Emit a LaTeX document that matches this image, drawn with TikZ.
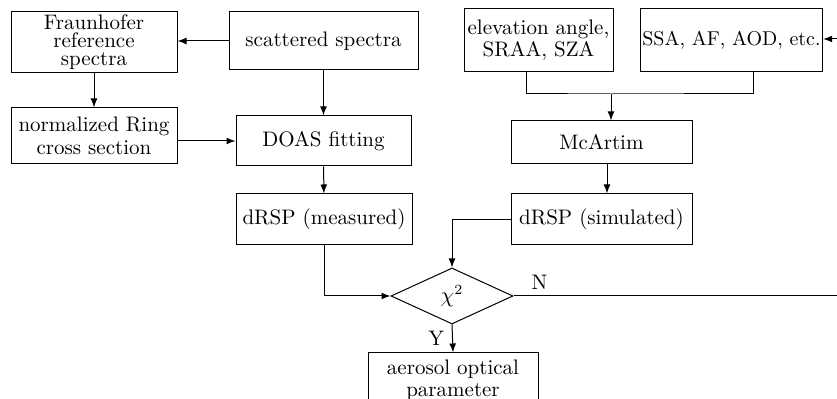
\documentclass[tikz,border=0pt]{standalone}
\usepackage{amsmath}
\usepackage{tikz}
\usetikzlibrary{shapes.geometric, arrows.meta, positioning}

\begin{document}
\begin{tikzpicture}[
    x=0.5pt, y=-0.5pt,
    font=\fontsize{10.5}{11.2}\selectfont,
    line width=0.5pt,
    >={Latex[length=4.5pt,width=3.4pt]},
    block/.style={rectangle, draw, align=center, inner sep=1pt,
                  minimum width=#1},
    decision/.style={diamond, draw, inner sep=0pt,
                     minimum width=61pt, minimum height=28pt},
    arrow/.style={->},
]
    \useasboundingbox (0,0) rectangle (837,399);

    % Measured branch
    \node[block=83pt, minimum height=30.5pt,
          font=\fontsize{10.5}{9}\selectfont] (fraun) at (94,42.5)
          {Fraunhofer\\reference\\spectra};
    \node[block=94.5pt, minimum height=29pt] (scat) at (323.5,41)
          {scattered spectra};
    \node[block=83pt, minimum height=28pt] (ring) at (94,136)
          {normalized Ring\\cross section};
    \node[block=87.5pt, minimum height=25pt] (doas) at (323.5,141)
          {DOAS fitting};
    \node[block=88pt, minimum height=25.5pt] (meas) at (324,219.5)
          {dRSP (measured)};

    \draw[arrow] (scat.west) -- (scat.west -| fraun.east);
    \draw[arrow] (fraun) -- (ring);
    \draw[arrow] (ring.east |- doas.west) -- (doas.west);
    \draw[arrow] (scat) -- (doas);
    \draw[arrow] (doas) -- (meas);

    % Simulated branch
    \node[block=74.5pt, minimum height=31.5pt] (elev) at (538.5,40.5)
          {elevation angle,\\SRAA, SZA};
    \node[block=90.5pt, minimum height=31.5pt,
          font=\fontsize{10}{11}\selectfont] (ssa) at (731.5,40.5)
          {SSA, AF, AOD, etc.};
    \node[block=90.5pt, minimum height=21.5pt] (mcart) at (601.5,142.5)
          {McArtim};
    \node[block=90.5pt, minimum height=25.5pt] (sim) at (601.5,219.5)
          {dRSP (simulated)};
    \coordinate (join) at (611,94);

    \draw ([xshift=-6.25pt]elev.south) |- (join)
          -| ([xshift=10.75pt]ssa.south);
    \draw[arrow] (join) -- (join |- mcart.north);
    \draw[arrow] ([xshift=2.75pt]mcart.south) -- ([xshift=2.75pt]sim.north);

    % Comparison
    \node[decision] (chi) at (452,296) {$\chi^2$};
    \node[block=85pt, minimum height=27pt] (aero) at (453,380)
          {aerosol optical\\parameter};

    \draw[arrow] (meas.south) |- (chi.west);
    \draw[arrow] (sim.west) -| (chi.north);
    \draw[arrow] (chi.south) -- node[left, inner sep=4pt] {Y} (aero.north);

    % Feedback (runs off the right edge)
    \coordinate (nend) at (837,296);
    \coordinate (send) at (837,39);
    \draw (chi.east) -- node[pos=0.08, above, inner sep=3pt] {N} (nend);
    \draw[arrow] (send) -- (send -| ssa.east);

\end{tikzpicture}
\end{document}
